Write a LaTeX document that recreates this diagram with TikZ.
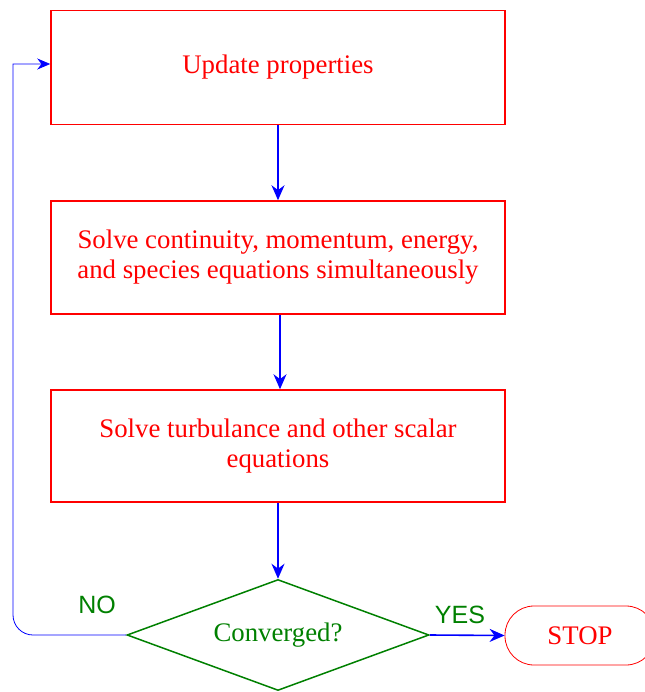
\documentclass[tikz,border=0pt]{standalone}
\usepackage{fontspec}
\setmainfont{Liberation Serif}
\setsansfont{Liberation Sans}
\usetikzlibrary{arrows.meta,shapes.geometric}
\definecolor{myred}{RGB}{255,0,0}
\definecolor{mygreen}{RGB}{0,128,0}
\definecolor{myblue}{RGB}{0,0,255}
\tikzset{
  procbox/.style={draw=myred, line width=1.5pt, minimum width=454pt, minimum height=114pt, inner sep=0pt,
    text=myred, align=center, font=\fontsize{26.8}{30}\selectfont},
  flow/.style={draw=myblue, line width=1.6pt, -{Stealth[length=15pt,width=13pt]}},
  fb/.style={draw=myblue, line width=0.8pt, -{Stealth[length=13pt,width=11pt]}},
  lbl/.style={text=mygreen, font=\sffamily\fontsize{25}{30}\selectfont, inner sep=0pt}
}
\begin{document}
\begin{tikzpicture}[x=1pt,y=-1pt]
\useasboundingbox (0,0) rectangle (644,692);
\node[procbox] (b1) at (278,67.5) {\raisebox{-3pt}{Update properties}};
\node[procbox, minimum height=113pt] (b2) at (278,257.5) {\raisebox{-3pt}{\begin{tabular}{@{}c@{}}Solve continuity, momentum, energy,\\and species equations simultaneously\end{tabular}}};
\node[procbox, minimum height=112pt] (b3) at (278,446) {\raisebox{-3pt}{\begin{tabular}{@{}c@{}}Solve turbulance and other scalar\\equations\end{tabular}}};
\node[draw=mygreen, line width=1.5pt, shape=diamond, aspect=2.72, minimum width=302pt, minimum height=111pt, inner sep=0pt, text=mygreen, font=\fontsize{26.8}{30}\selectfont] (dia) at (278,635) {Converged?};
\node[draw=myred, line width=0.8pt, rounded corners=29pt, minimum width=150pt, minimum height=59pt, inner sep=0pt, text=myred, font=\fontsize{26.8}{30}\selectfont] (stop) at (580,635.5) {STOP};
\draw[flow] (b1.south) -- (b2.north);
\draw[flow] ([xshift=2pt]b2.south) -- ([xshift=2pt]b3.north);
\draw[flow] (b3.south) -- (dia.north);
\draw[flow] (dia.east) -- (stop.west);
\coordinate (c1) at (13,635);
\coordinate (c2) at (13,64);
\draw[fb] (dia.west) [rounded corners=20pt] -- (c1) [sharp corners] -- (c2) -- (c2 -| b1.west);
\node[lbl] (no) at (97,605) {NO};
\node[lbl] (yes) at (460,615) {YES};
\end{tikzpicture}
\end{document}
